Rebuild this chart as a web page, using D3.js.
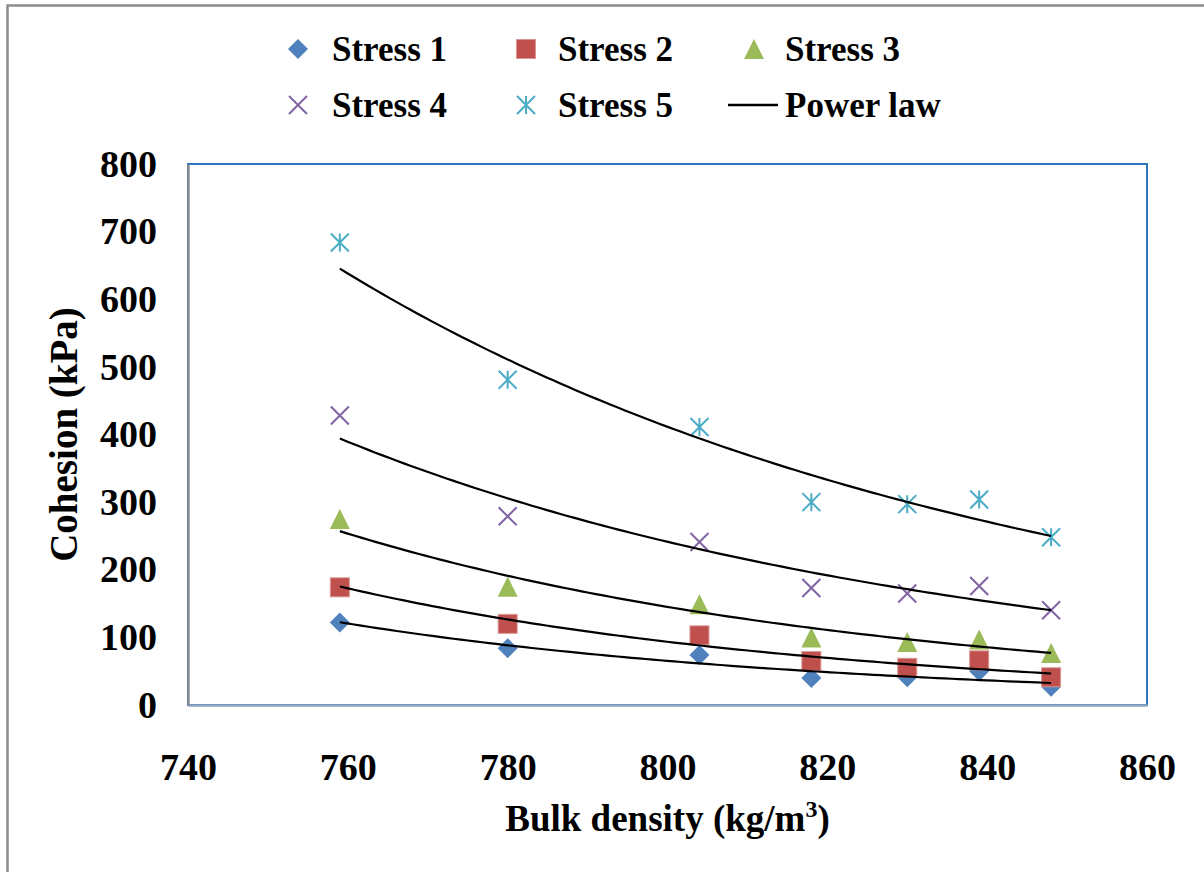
<!DOCTYPE html>
<html>
<head>
<meta charset="utf-8">
<script src="https://cdn.jsdelivr.net/npm/d3@7"></script>
<style>
  html, body { margin: 0; padding: 0; background: #fff; }
  svg { display: block; }
  svg text { font-family: "Times New Roman", "Liberation Serif", Tinos, "DejaVu Serif", serif !important; font-weight: bold; fill: #000; }
</style>
</head>
<body>
<svg id="chart" width="1204" height="872"></svg>
<script>
// Bulk density (kg/m3) of each sample
const density = [759, 780, 804, 818, 830, 839, 848];

// Cohesion (kPa) at each consolidation stress
const stress1 = [122, 84, 74, 40, 41, 50, 27];
const stress2 = [174, 120, 103, 65, 55, 66, 41];
const stress3 = [275, 175, 149, 100, 93, 97, 77];
const stress4 = [428, 279, 241, 173, 165, 176, 140];
const stress5 = [684, 481, 411, 300, 297, 304, 248];

const seriesNames = ["Stress 1", "Stress 2", "Stress 3", "Stress 4", "Stress 5"];
const trendName = "Power law";

const xTicks = [740, 760, 780, 800, 820, 840, 860];
const yTicks = [0, 100, 200, 300, 400, 500, 600, 700, 800];

const series = [stress1, stress2, stress3, stress4, stress5].map((vals, i) => ({
  name: seriesNames[i],
  points: density.map((d, j) => ({ x: d, y: vals[j] }))
}));

const colors = ["#4F81BD", "#C0504D", "#9BBB59", "#8064A2", "#4BACC6"];
const markerKinds = ["diamond", "square", "triangle", "cross", "star"];

const svg = d3.select("#chart");

// Outer chart frame
svg.append("rect")
  .attr("x", 7.5).attr("y", 5.5)
  .attr("width", 1300).attr("height", 1000)
  .attr("fill", "none").attr("stroke", "#8c8c8c").attr("stroke-width", 2.5);

const plot = { left: 188, top: 164, right: 1147, bottom: 705 };

const x = d3.scaleLinear().domain([740, 860]).range([plot.left, plot.right]);
const y = d3.scaleLinear().domain([0, 800]).range([plot.bottom, plot.top]);

// Plot area border
svg.append("rect")
  .attr("x", plot.left).attr("y", plot.top)
  .attr("width", plot.right - plot.left).attr("height", plot.bottom - plot.top)
  .attr("fill", "none").attr("stroke", "#2E75C0").attr("stroke-width", 2);

// Axes (labels only, no tick marks)
const xAxis = d3.axisBottom(x).tickValues(xTicks).tickSize(0).tickPadding(48).tickFormat(d3.format("d"));
const gx = svg.append("g").attr("transform", `translate(0,${plot.bottom})`).call(xAxis)
  .attr("font-family", null).attr("font-size", null);
gx.select(".domain").attr("stroke", "#8FA6BF").attr("stroke-width", 2.5);
gx.selectAll("text").style("font-size", "38px");

const yAxis = d3.axisLeft(y).tickValues(yTicks).tickSize(0).tickPadding(31).tickFormat(d3.format("d"));
const gy = svg.append("g").attr("transform", `translate(${plot.left},0)`).call(yAxis)
  .attr("font-family", null).attr("font-size", null);
gy.select(".domain").attr("stroke", "#8c8c8c").attr("stroke-width", 2.5);
gy.selectAll("text").style("font-size", "38px");

// Axis titles
const xTitle = svg.append("text")
  .attr("x", (507 + 828) / 2).attr("y", 831)
  .attr("text-anchor", "middle")
  .style("font-size", "37px");
xTitle.append("tspan").text("Bulk density (kg/m");
xTitle.append("tspan").text("3").attr("dy", -14).style("font-size", "24px");
xTitle.append("tspan").text(")").attr("dy", 14);

svg.append("text")
  .attr("transform", `translate(77,${(306 + 563) / 2}) rotate(-90)`)
  .attr("text-anchor", "middle")
  .style("font-size", "39px")
  .text("Cohesion (kPa)");

// Marker drawing
function drawMarker(g, kind, color, cx, cy) {
  const r = 10;
  if (kind === "diamond") {
    g.append("path").attr("d", `M${cx},${cy - r}L${cx + r},${cy}L${cx},${cy + r}L${cx - r},${cy}Z`)
      .attr("fill", color);
  } else if (kind === "square") {
    g.append("rect").attr("x", cx - 9.5).attr("y", cy - 9.5).attr("width", 19).attr("height", 19)
      .attr("fill", color).attr("stroke", "#D99694").attr("stroke-width", 1);
  } else if (kind === "triangle") {
    g.append("path").attr("d", `M${cx},${cy - 10}L${cx + 10},${cy + 10}L${cx - 10},${cy + 10}Z`)
      .attr("fill", color);
  } else if (kind === "cross") {
    const s = 9;
    g.append("path").attr("d", `M${cx - s},${cy - s}L${cx + s},${cy + s}M${cx - s},${cy + s}L${cx + s},${cy - s}`)
      .attr("stroke", color).attr("stroke-width", 2).attr("fill", "none");
  } else if (kind === "star") {
    const s = 9;
    g.append("path").attr("d", `M${cx - s},${cy - s}L${cx + s},${cy + s}M${cx - s},${cy + s}L${cx + s},${cy - s}M${cx},${cy - s}L${cx},${cy + s}`)
      .attr("stroke", color).attr("stroke-width", 2).attr("fill", "none");
  }
}

const markers = svg.append("g");
series.forEach((s, i) => {
  const g = markers.append("g").attr("class", "series");
  s.points.forEach(p => drawMarker(g, markerKinds[i], colors[i], x(p.x), y(p.y)));
});

// Power-law trendlines (least squares on ln y vs ln x)
function powerFit(pts) {
  const lx = pts.map(p => Math.log(p.x));
  const ly = pts.map(p => Math.log(p.y));
  const mx = d3.mean(lx), my = d3.mean(ly);
  const b = d3.sum(lx.map((v, k) => (v - mx) * (ly[k] - my))) / d3.sum(lx.map(v => (v - mx) * (v - mx)));
  const a = Math.exp(my - b * mx);
  return v => a * Math.pow(v, b);
}

const xMin = d3.min(density), xMax = d3.max(density);
const samples = d3.range(0, 101).map(k => xMin + (xMax - xMin) * k / 100);
const line = d3.line().x(d => x(d.x)).y(d => y(d.y));

const trends = svg.append("g");
series.forEach(s => {
  const f = powerFit(s.points);
  trends.append("path")
    .datum(samples.map(v => ({ x: v, y: f(v) })))
    .attr("d", line)
    .attr("fill", "none").attr("stroke", "#000").attr("stroke-width", 2.2);
});

// Legend
const legend = svg.append("g");
const colX = [298, 526, 754];
const textX = [332, 558, 785];
const rowY = [49, 105];
const legendItems = seriesNames.map((n, i) => ({ name: n, kind: markerKinds[i], color: colors[i] }))
  .concat([{ name: trendName, kind: "line", color: "#000" }]);
legendItems.forEach((item, i) => {
  const col = i % 3, row = Math.floor(i / 3);
  const cy = rowY[row];
  if (item.kind === "line") {
    legend.append("line").attr("x1", 728).attr("x2", 778).attr("y1", cy).attr("y2", cy)
      .attr("stroke", "#000").attr("stroke-width", 2.5);
  } else {
    drawMarker(legend, item.kind, item.color, colX[col], cy);
  }
  legend.append("text")
    .attr("x", textX[col]).attr("y", cy + 12)
    .style("font-size", "35px")
    .text(item.name);
});
</script>
</body>
</html>
